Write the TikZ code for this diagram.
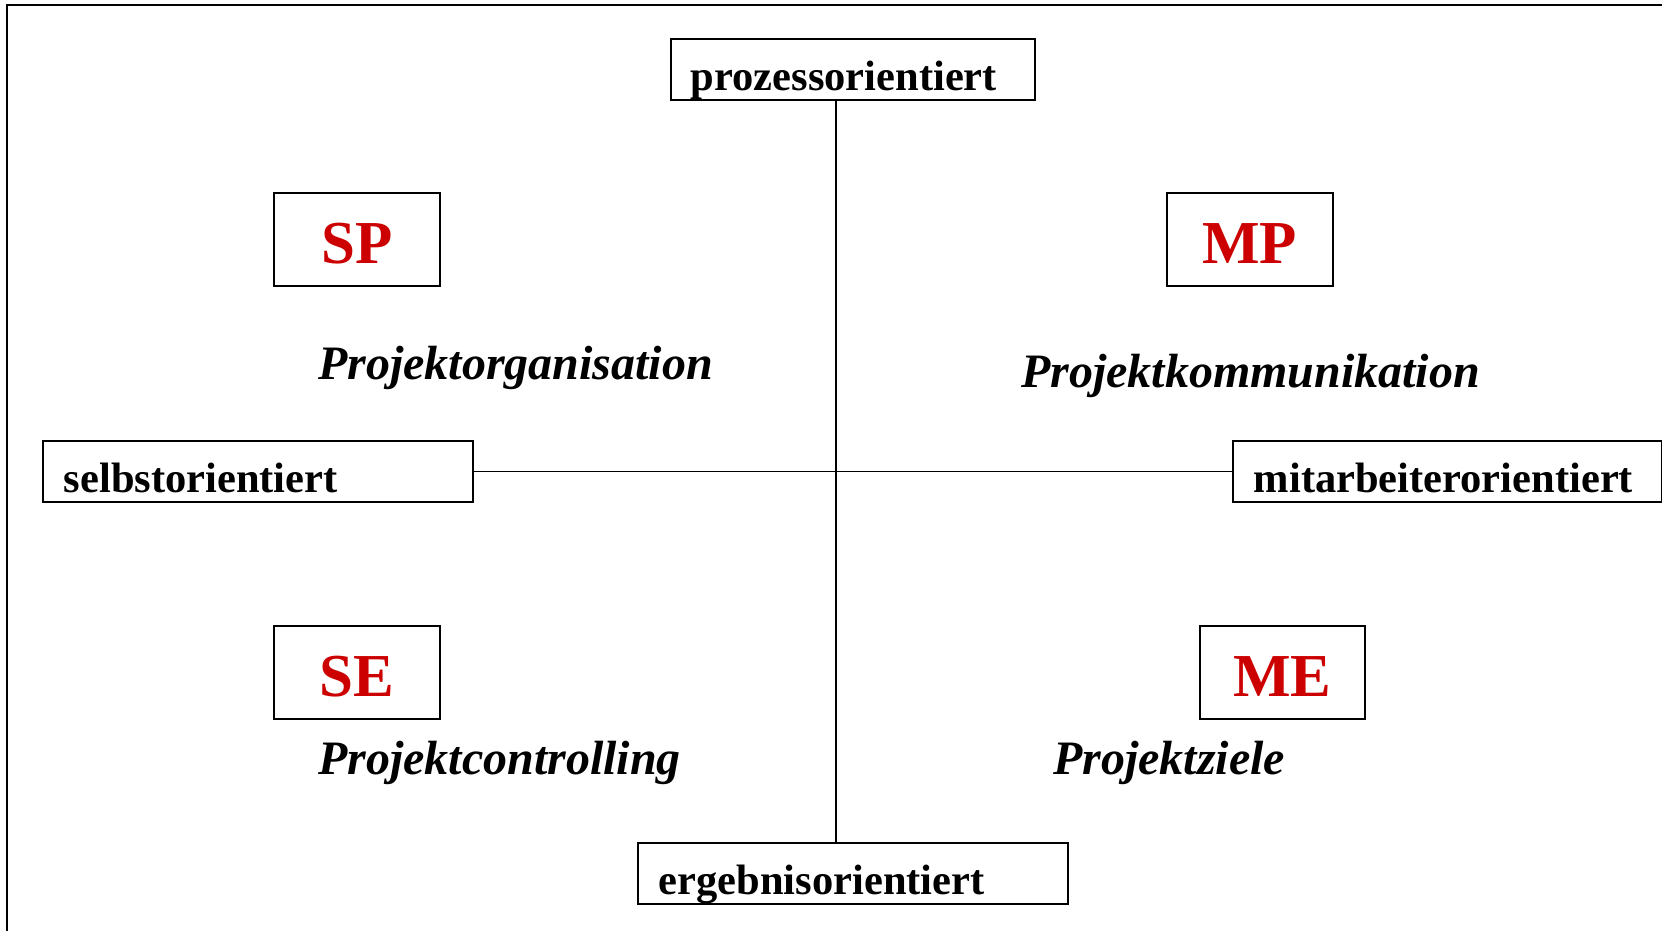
\documentclass[tikz,border=0pt]{standalone}
\usepackage{fontspec}
\setmainfont{Liberation Serif}
\definecolor{lettred}{HTML}{CC0000}
\tikzset{
  axisbox/.style={draw, line width=1.6pt, inner xsep=0pt, inner ysep=0pt, anchor=north west, text height=52pt, text depth=9pt, align=left, font=\fontsize{42.5}{50}\selectfont\bfseries},
  letterbox/.style={draw, line width=1.6pt, inner xsep=0pt, inner ysep=0pt, anchor=north west, minimum width=166pt, text height=71pt, text depth=22pt, text=lettred, font=\fontsize{61}{70}\selectfont\bfseries},
  topic/.style={anchor=base west, inner sep=0pt, font=\fontsize{48}{56}\selectfont\bfseries\itshape},
  axisline/.style={line width=1.5pt},
  frameline/.style={line width=2.6pt}
}
\begin{document}
\begin{tikzpicture}[x=1pt,y=-1pt]
\useasboundingbox[fill=white] (0,0) rectangle (1662,931);
% frame (only left and top visible)
\draw[frameline] (7,940) -- (7,5) -- (1680,5);
% axis boxes
\node[axisbox, text width=324pt, inner xsep=20pt] (proz) at (670,38) {prozessorientiert};
\node[axisbox, text width=388pt, inner xsep=21pt] (selbst) at (42,440) {selbstorientiert};
\node[axisbox, text width=387pt, inner xsep=21pt] (mitarb) at (1232,440) {mitarbeiterorientiert};
\node[axisbox, text width=388pt, inner xsep=21pt] (ergeb) at (637,842) {ergebnisorientiert};
\coordinate (c) at (836,471);
% axes
\draw[axisline] (proz.south -| c) -- (ergeb.north -| c);
\draw[axisline] (selbst.east) -- (mitarb.west);
% letter boxes
\node[letterbox] (sp) at (273,192) {SP};
\node[letterbox] (mp) at (1166,192) {MP};
\node[letterbox] (se) at (273,625) {SE};
\node[letterbox, minimum width=165pt] (me) at (1199,625) {ME};
% topics
\node[topic] (org) at (318,379) {Projektorganisation};
\node[topic] (kom) at (1021,387) {Projektkommunikation};
\node[topic] (con) at (318,774) {Projektcontrolling};
\node[topic] (zie) at (1053,774) {Projektziele};
\end{tikzpicture}
\end{document}
